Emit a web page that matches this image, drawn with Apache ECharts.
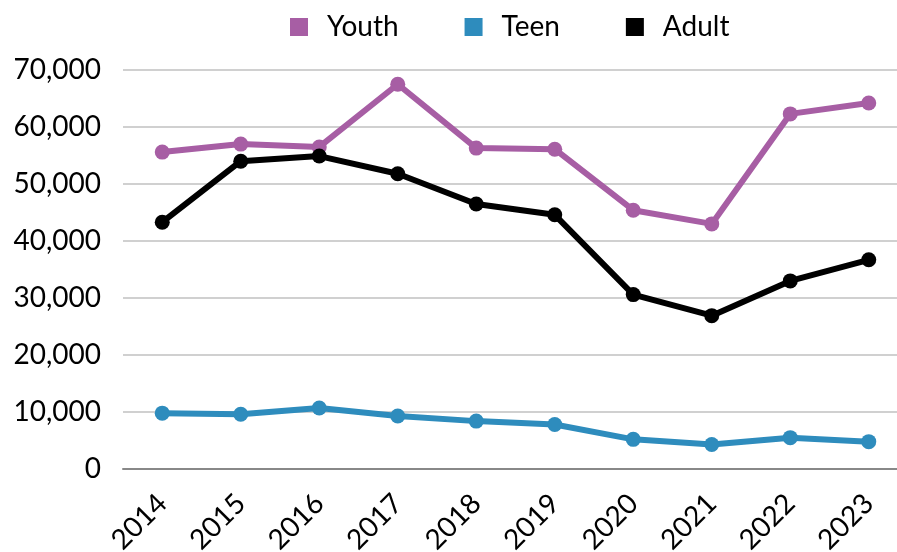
<!DOCTYPE html>
<html>
<head>
<meta charset="utf-8">
<script src="https://cdn.jsdelivr.net/npm/echarts@6/dist/echarts.min.js"></script>
<style>
  html, body { margin: 0; padding: 0; background: #fff; }
  #chart { width: 897px; height: 552px; }
</style>
</head>
<body>
<div id="chart"></div>
<script>
const years = ["2014", "2015", "2016", "2017", "2018", "2019", "2020", "2021", "2022", "2023"];
const youth = [55600, 57000, 56500, 67500, 56300, 56100, 45400, 43000, 62300, 64200];
const teen = [9800, 9600, 10700, 9300, 8400, 7800, 5200, 4300, 5500, 4800];
const adult = [43300, 54000, 54900, 51800, 46500, 44600, 30600, 26900, 33000, 36700];

const FONT = "Lato";
const chart = echarts.init(document.getElementById("chart"));

function lineSeries(name, data, color) {
  return {
    name,
    type: "line",
    data,
    symbol: "circle",
    symbolSize: 15,
    lineStyle: { width: 6, color },
    itemStyle: { color },
    emphasis: { disabled: true }
  };
}

chart.setOption({
  animation: false,
  textStyle: { fontFamily: FONT },
  legend: {
    top: 8,
    left: 285,
    itemWidth: 18,
    itemHeight: 18,
    itemGap: 66,
    icon: "rect",
    textStyle: { fontSize: 28, color: "#000", padding: [0, 0, 0, 14] },
    data: ["Youth", "Teen", "Adult"]
  },
  grid: { left: 123, top: 70, width: 785, height: 399, outerBoundsMode: "none", containLabel: false },
  xAxis: {
    type: "category",
    data: years,
    boundaryGap: true,
    axisLine: { lineStyle: { color: "#888", width: 2 } },
    axisTick: { show: false },
    axisLabel: { rotate: 45, fontSize: 28, color: "#000", margin: 30, fontFamily: FONT }
  },
  yAxis: {
    type: "value",
    min: 0,
    max: 70000,
    interval: 10000,
    axisLine: { show: false },
    axisTick: { show: false },
    splitLine: { lineStyle: { color: "#d0d0d0", width: 2 } },
    axisLabel: {
      fontSize: 28,
      color: "#000",
      margin: 22,
      fontFamily: FONT,
      formatter: (v) => v.toLocaleString("en-US")
    }
  },
  series: [
    lineSeries("Youth", youth, "#a75ea4"),
    lineSeries("Teen", teen, "#2e8cbd"),
    lineSeries("Adult", adult, "#000000")
  ]
});
</script>
</body>
</html>
